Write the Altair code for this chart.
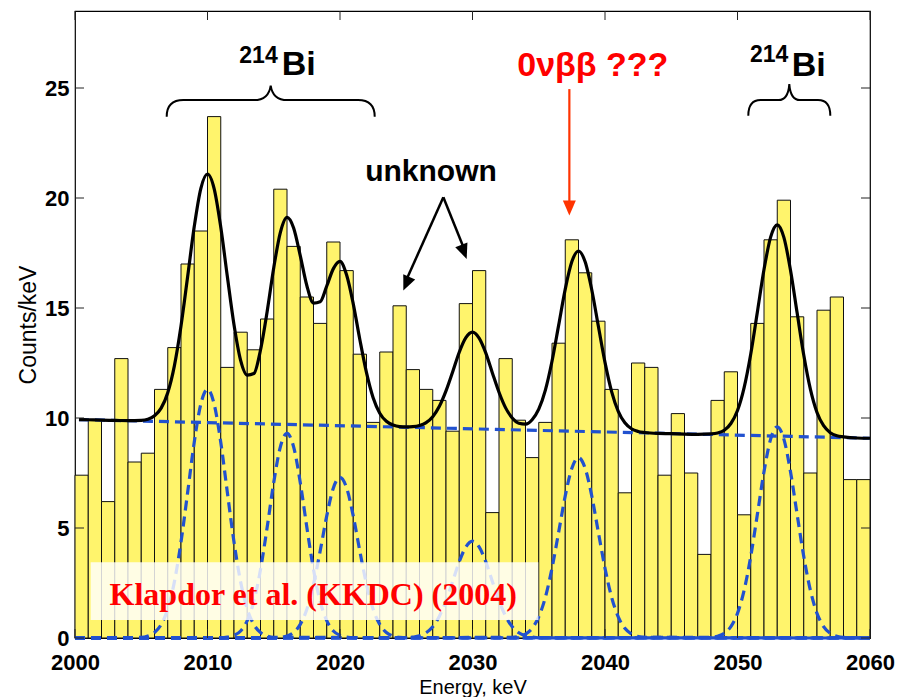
import altair as alt
import pandas as pd

# ---------------- data ----------------
BIN_START = list(range(2000, 2060))          # 1 keV bins
COUNTS = [7.4, 9.9, 6.2, 12.7, 8.0, 8.4, 11.3, 13.2, 17.0, 18.5,
          23.7, 12.3, 13.9, 13.1, 14.5, 20.4, 17.8, 15.5, 14.3, 18.0,
          16.7, 12.9, 9.8, 13.0, 15.1, 12.2, 11.3, 10.8, 9.4, 15.2,
          16.7, 5.7, 12.7, 9.9, 8.2, 9.8, 13.4, 18.1, 16.6, 14.4,
          11.3, 6.6, 12.5, 12.3, 7.4, 10.2, 7.5, 3.8, 10.8, 12.1,
          5.6, 14.3, 18.1, 19.9, 14.6, 7.5, 14.9, 15.5, 7.2, 7.2]

# total fit curve (black)
FIT_E = [2000.3, 2001, 2002, 2003, 2004, 2005, 2005.5, 2006, 2006.5, 2007,
         2007.5, 2008, 2008.5, 2009, 2009.5, 2010, 2010.5, 2011, 2011.5, 2012,
         2012.5, 2013, 2013.5, 2014, 2014.5, 2015, 2015.5, 2016, 2016.5, 2017,
         2017.5, 2018, 2018.5, 2019, 2019.5, 2020, 2020.5, 2021, 2021.5, 2022,
         2022.5, 2023, 2023.5, 2024, 2024.5, 2025, 2025.5, 2026, 2026.5, 2027,
         2027.5, 2028, 2028.5, 2029, 2029.5, 2030, 2030.5, 2031, 2031.5, 2032,
         2032.5, 2033, 2033.5, 2034, 2034.5, 2035, 2035.5, 2036, 2036.5, 2037,
         2037.5, 2038, 2038.5, 2039, 2039.5, 2040, 2040.5, 2041, 2041.5, 2042,
         2042.5, 2043, 2044, 2045, 2046, 2047, 2048, 2048.5, 2049, 2049.5,
         2050, 2050.5, 2051, 2051.5, 2052, 2052.5, 2053, 2053.5, 2054, 2054.5,
         2055, 2055.5, 2056, 2056.5, 2057, 2057.5, 2058, 2059, 2060]
FIT_Y = [9.93, 9.92, 9.90, 9.89, 9.88, 9.89, 9.94, 10.10, 10.45, 11.15,
         12.37, 14.18, 16.42, 18.70, 20.44, 21.09, 20.43, 18.68, 16.42, 14.24,
         12.62, 11.95, 12.02, 13.09, 14.83, 16.83, 18.44, 19.12, 18.64, 17.38,
         16.01, 15.22, 15.28, 16.00, 16.79, 17.12, 16.50, 15.19, 13.56, 12.06,
         10.92, 10.22, 9.85, 9.68, 9.61, 9.60, 9.61, 9.66, 9.79, 10.06,
         10.53, 11.23, 12.09, 12.99, 13.65, 13.90, 13.63, 12.96, 12.05, 11.17,
         10.46, 10.00, 9.76, 9.72, 9.92, 10.40, 11.27, 12.58, 14.21, 15.86,
         17.11, 17.59, 17.10, 15.83, 14.17, 12.53, 11.20, 10.30, 9.78, 9.51,
         9.39, 9.34, 9.30, 9.29, 9.27, 9.26, 9.28, 9.32, 9.44, 9.75,
         10.34, 11.38, 12.91, 14.82, 16.75, 18.22, 18.78, 18.21, 16.72, 14.78,
         12.86, 11.31, 10.25, 9.65, 9.33, 9.19, 9.14, 9.09, 9.08]

# flat background (blue dashed)
BG_E = [2000.3, 2060.0]
BG_Y = [9.93, 9.08]

# individual peak components (blue dashed), read around each centre
PEAK_CENTERS = [2010, 2016, 2020, 2030, 2038, 2053]
PEAK_OFFSETS = [-5.0, -4.5, -4.0, -3.5, -3.0, -2.5, -2.0, -1.5, -1.0, -0.5, 0.0,
                0.5, 1.0, 1.5, 2.0, 2.5, 3.0, 3.5, 4.0, 4.5, 5.0]
PEAK_2010 = [0.03, 0.09, 0.25, 0.61, 1.32, 2.55, 4.36, 6.61, 8.90, 10.64, 11.3,
             10.64, 8.90, 6.61, 4.36, 2.55, 1.32, 0.61, 0.25, 0.09, 0.03]
PEAK_2016 = [0.01, 0.04, 0.12, 0.32, 0.79, 1.67, 3.11, 5.02, 7.07, 8.69, 9.3,
             8.69, 7.07, 5.02, 3.11, 1.67, 0.79, 0.32, 0.12, 0.04, 0.01]
PEAK_2020 = [0.01, 0.03, 0.09, 0.25, 0.62, 1.31, 2.44, 3.94, 5.55, 6.82, 7.3,
             6.82, 5.55, 3.94, 2.44, 1.31, 0.62, 0.25, 0.09, 0.03, 0.01]
PEAK_2030 = [0.01, 0.04, 0.10, 0.24, 0.51, 0.99, 1.70, 2.57, 3.47, 4.14, 4.4,
             4.14, 3.47, 2.57, 1.70, 0.99, 0.51, 0.24, 0.10, 0.04, 0.01]
PEAK_2038 = [0.03, 0.07, 0.18, 0.44, 0.96, 1.85, 3.17, 4.80, 6.46, 7.72, 8.2,
             7.72, 6.46, 4.80, 3.17, 1.85, 0.96, 0.44, 0.18, 0.07, 0.03]
PEAK_2053 = [0.03, 0.08, 0.21, 0.52, 1.12, 2.17, 3.71, 5.62, 7.56, 9.04, 9.6,
             9.04, 7.56, 5.62, 3.71, 2.17, 1.12, 0.52, 0.21, 0.08, 0.03]
PEAK_VALUES = [PEAK_2010, PEAK_2016, PEAK_2020, PEAK_2030, PEAK_2038, PEAK_2053]

X_TICKS = [2000, 2010, 2020, 2030, 2040, 2050, 2060]
Y_TICKS = [0, 5, 10, 15, 20, 25]

# ---------------- layout / style ----------------
W, H = 795, 627
X_DOMAIN = [2000, 2060]
Y_DOMAIN = [0, 28.5]
SANS = "Liberation Sans, Arial, Helvetica, sans-serif"
SERIF = "Liberation Serif, Times New Roman, serif"
YELLOW = "#fff46c"
BLUE = "#2151cf"
RED = "#ff0000"
ARROW_RED = "#ff3300"

xs = alt.Scale(domain=X_DOMAIN, nice=False, zero=False)
ys = alt.Scale(domain=Y_DOMAIN, nice=False, zero=False)

bars_df = pd.DataFrame({"E": BIN_START, "E2": [b + 1 for b in BIN_START], "V": COUNTS})
fit_df = pd.DataFrame({"E": FIT_E, "V": FIT_Y})
bg_df = pd.DataFrame({"E": BG_E, "V": BG_Y})

rows = []
for i, (c, vals) in enumerate(zip(PEAK_CENTERS, PEAK_VALUES)):
    rows.append({"E": X_DOMAIN[0], "V": 0.0, "c": i})
    for off, v in zip(PEAK_OFFSETS, vals):
        rows.append({"E": c + off, "V": v, "c": i})
    rows.append({"E": X_DOMAIN[1], "V": 0.0, "c": i})
comp_df = pd.DataFrame(rows)

x_axis = alt.Axis(values=X_TICKS, format="d", title="Energy, keV", domain=False,
                  ticks=False, tickSize=0, grid=False, labelFont=SANS, labelFontSize=22,
                  labelFontWeight="bold", labelColor="black", labelPadding=14,
                  labelFlush=False, labelOverlap=False, titleFont=SANS,
                  titleFontSize=20, titleFontWeight="normal", titleColor="black",
                  titleY=55.5, titleBaseline="alphabetic")
y_axis = alt.Axis(values=Y_TICKS, title="Counts/keV", domain=False, ticks=False,
                  tickSize=0, grid=False, labelFont=SANS, labelFontSize=22,
                  labelFontWeight="bold", labelColor="black", labelPadding=6,
                  titleFont=SANS, titleFontSize=23, titleFontWeight="normal",
                  titleColor="black", titleAngle=270, titleX=-47, titleY=H / 2,
                  titleAlign="center", titleBaseline="middle")

bars = alt.Chart(bars_df).mark_rect(fill=YELLOW, stroke="#111111", strokeWidth=1).encode(
    x=alt.X("E:Q", scale=xs, axis=x_axis),
    x2="E2:Q",
    y=alt.Y("V:Q", scale=ys, axis=y_axis),
    y2=alt.datum(0),
)

bg = alt.Chart(bg_df).mark_line(color=BLUE, strokeWidth=3.2, strokeDash=[10, 6]).encode(
    x="E:Q", y="V:Q")

comps = alt.Chart(comp_df).mark_line(color=BLUE, strokeWidth=3.2, strokeDash=[10, 6],
                                     interpolate="monotone").encode(
    x="E:Q", y="V:Q", detail="c:N")

fit = alt.Chart(fit_df).mark_line(color="black", strokeWidth=3.2, interpolate="monotone").encode(
    x="E:Q", y="V:Q")

one = pd.DataFrame({"k": [0]})


def text(x, y, s, size, color="black", weight="bold", font=SANS, align="left"):
    return alt.Chart(one).mark_text(text=s, fontSize=size, fontWeight=weight, font=font,
                                    color=color, align=align, baseline="alphabetic").encode(
        x=alt.datum(x), y=alt.datum(y))


def rule(x1, y1, x2, y2, color, width):
    return alt.Chart(one).mark_rule(color=color, strokeWidth=width).encode(
        x=alt.datum(x1), y=alt.datum(y1), x2=alt.datum(x2), y2=alt.datum(y2))


HEAD = "M0,0 L-0.65,1.5 L0.65,1.5 Z"   # arrow head, tip at origin, pointing up


def head(x, y, angle, color):
    return alt.Chart(one).mark_point(shape=HEAD, filled=True, color=color, size=400,
                                     angle=angle, opacity=1, strokeWidth=0).encode(
        x=alt.datum(x), y=alt.datum(y))


BRACE_L = "M-1,0.16 Q-1,0 -0.84,0 L-0.16,0 Q-0.02,0 0,-0.14 Q0.02,0 0.16,0 L0.84,0 Q1,0 1,0.16"
BRACE_R = "M-1,0.38 Q-1,0 -0.7,0 L-0.26,0 Q-0.03,0 0,-0.39 Q0.03,0 0.26,0 L0.7,0 Q1,0 1,0.38"


def brace(x, y, path, half_width_px):
    return alt.Chart(one).mark_point(shape=path, filled=False, color="black", strokeWidth=2,
                                     size=(2 * half_width_px) ** 2, opacity=1).encode(
        x=alt.datum(x), y=alt.datum(y))


box = alt.Chart(one).mark_rect(fill="white", opacity=0.82).encode(
    x=alt.datum(2001.18), x2=alt.datum(2034.97),
    y=alt.datum(0.82), y2=alt.datum(3.44))

annotations = [
    box,
    text(2017.98, 1.51, "Klapdor et al. (KKDC) (2004)", 32, color=RED, font=SERIF, align="center"),
    # left 214Bi
    text(2012.40, 26.12, "214", 23),
    text(2015.60, 25.60, "Bi", 34),
    brace(2014.77, 24.45, BRACE_L, 104),
    # right 214Bi
    text(2050.94, 26.16, "214", 23),
    text(2054.09, 25.56, "Bi", 34),
    brace(2053.91, 24.45, BRACE_R, 41),
    # unknown
    text(2026.87, 20.79, "unknown", 30, align="center"),
    rule(2027.80, 20.03, 2024.92, 16.16, "black", 2.5),
    rule(2027.80, 20.03, 2029.44, 17.58, "black", 2.5),
    head(2024.78, 15.79, 203.2, "black"),
    head(2029.56, 17.23, 159.2, "black"),
    # 0vbb
    text(2039.08, 25.56, "0νββ ???", 34, color=RED, align="center"),
    rule(2037.31, 24.95, 2037.31, 19.5, ARROW_RED, 2.2),
    head(2037.31, 19.20, 180, ARROW_RED),
]

# inward ticks on all four sides (MATLAB style)
tx = pd.DataFrame({"E": X_TICKS})
ty = pd.DataFrame({"V": Y_TICKS})
ticks = [
    alt.Chart(tx).mark_rule(color="#222222", strokeWidth=1).encode(
        x="E:Q", y=alt.value(H), y2=alt.value(H - 9)),
    alt.Chart(tx).mark_rule(color="#222222", strokeWidth=1).encode(
        x="E:Q", y=alt.value(0), y2=alt.value(9)),
    alt.Chart(ty).mark_rule(color="#222222", strokeWidth=1).encode(
        y="V:Q", x=alt.value(0), x2=alt.value(9)),
    alt.Chart(ty).mark_rule(color="#222222", strokeWidth=1).encode(
        y="V:Q", x=alt.value(W), x2=alt.value(W - 9)),
]

chart = alt.layer(bars, bg, comps, fit, *annotations, *ticks).properties(
    width=W, height=H,
    autosize=alt.AutoSizeParams(type="none"),
    padding={"left": 75, "top": 11, "right": 29, "bottom": 59},
    background="white",
).configure_view(stroke="black", strokeWidth=1.2)

chart.save("out.html", embed_options={"renderer": "svg", "actions": False})
